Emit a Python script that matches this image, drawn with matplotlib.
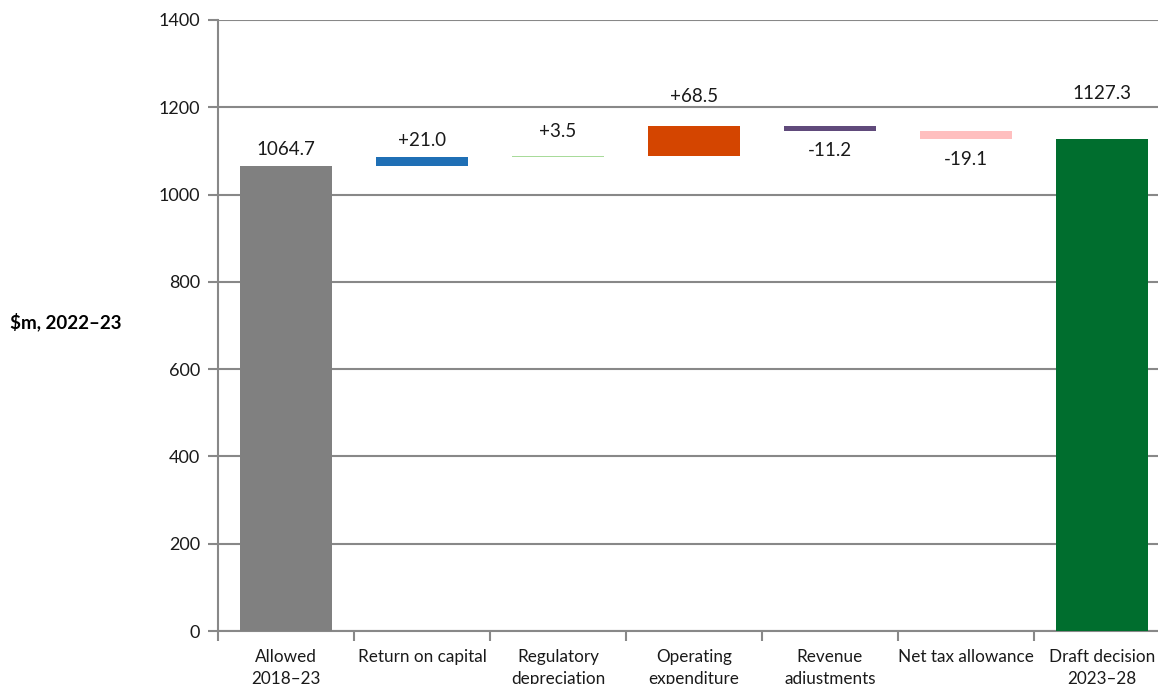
import matplotlib
matplotlib.use("Agg")
import matplotlib.pyplot as plt
from matplotlib.ticker import MultipleLocator, FixedLocator

categories = ["Allowed\n2018–23", "Return on capital", "Regulatory\ndepreciation",
              "Operating\nexpenditure", "Revenue\nadjustments", "Net tax allowance",
              "Draft decision\n2023–28"]
start_value = 1064.7
changes = [21.0, 3.5, 68.5, -11.2, -19.1]
end_value = 1127.3
labels = ["1064.7", "+21.0", "+3.5", "+68.5", "-11.2", "-19.1", "1127.3"]
colors = ["#808080", "#1F6FB5", "#A8DB9A", "#D44500", "#604A7B", "#FFBFBF", "#006E2E"]
label_offsets = [6, 6, 11, 15, -8.5, -9, 27]  # points

plt.rcParams['font.family'] = ['Lato', 'DejaVu Sans']

fig = plt.figure(figsize=(11.58, 6.84), dpi=100)
ax = fig.add_axes([218/1158, 53/684, 952/1158, 611/684])

bottoms, heights = [0], [start_value]
cum = start_value
for c in changes:
    if c >= 0:
        bottoms.append(cum); heights.append(c)
    else:
        bottoms.append(cum + c); heights.append(-c)
    cum += c
bottoms.append(0); heights.append(end_value)

x = list(range(len(categories)))
ax.bar(x, heights, bottom=bottoms, width=0.67, color=colors, zorder=3)

for i in range(len(categories)):
    if label_offsets[i] >= 0:
        y = bottoms[i] + heights[i]; va = 'bottom'
    else:
        y = bottoms[i]; va = 'top'
    ax.annotate(labels[i], (x[i], y), xytext=(0, label_offsets[i]), textcoords='offset points',
                ha='center', va=va, fontsize=13.5, color='#1a1a1a')

ax.set_xlim(-0.5, len(categories) - 0.5)
ax.set_ylim(0, 1400)
ax.yaxis.set_major_locator(MultipleLocator(200))
ax.grid(axis='y', color='#888888', linewidth=1.5, zorder=0)
for s in ['top', 'right']:
    ax.spines[s].set_visible(False)
for s in ['left', 'bottom']:
    ax.spines[s].set_color('#888888')
    ax.spines[s].set_linewidth(1.5)
ax.set_xticks(x)
ax.set_xticklabels(categories, fontsize=12.3, color='#1a1a1a', linespacing=1.45)
ax.tick_params(axis='x', length=0, pad=13)
ax.xaxis.set_minor_locator(FixedLocator([i + 0.5 for i in range(-1, len(categories))]))
ax.tick_params(axis='x', which='minor', length=7, width=1.5, color='#888888')
ax.tick_params(axis='y', length=7, width=1.5, color='#888888', labelsize=13, labelcolor='#1a1a1a', pad=6)

fig.text(10/1158, 1 - 322/684, "$m, 2022–23", fontsize=13.5, fontweight='bold', va='center', ha='left')

fig.savefig("out.png", dpi=100)
